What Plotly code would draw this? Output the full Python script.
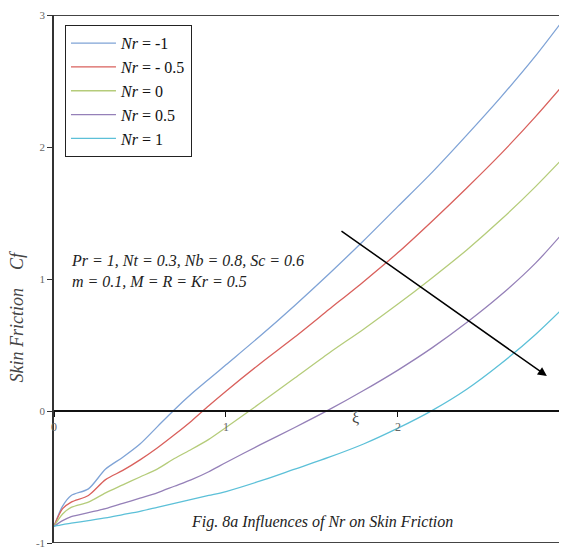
import plotly.graph_objects as go

xi = [0, 0.05, 0.1, 0.2, 0.3, 0.4, 0.5, 0.6, 0.7, 0.8, 0.9, 1.0, 1.2, 1.4, 1.6, 1.8, 2.0, 2.2, 2.4, 2.6, 2.8, 3.0]

cf_nr_m1 = [-0.873, -0.72, -0.64, -0.59, -0.44, -0.35, -0.25, -0.12, 0.01, 0.13, 0.24, 0.35,
            0.57, 0.80, 1.04, 1.29, 1.55, 1.81, 2.09, 2.38, 2.69, 3.03]
cf_nr_m05 = [-0.873, -0.74, -0.69, -0.64, -0.52, -0.45, -0.37, -0.28, -0.18, -0.075, 0.04, 0.15,
             0.36, 0.56, 0.77, 0.98, 1.20, 1.44, 1.69, 1.95, 2.23, 2.53]
cf_nr_0 = [-0.873, -0.78, -0.73, -0.69, -0.62, -0.56, -0.50, -0.44, -0.36, -0.29, -0.215, -0.125,
           0.06, 0.25, 0.44, 0.62, 0.81, 1.01, 1.22, 1.45, 1.70, 1.97]
cf_nr_05 = [-0.873, -0.83, -0.80, -0.77, -0.74, -0.70, -0.66, -0.62, -0.57, -0.52, -0.46, -0.39,
            -0.255, -0.125, 0.01, 0.155, 0.31, 0.48, 0.67, 0.88, 1.12, 1.41]
cf_nr_1 = [-0.873, -0.86, -0.85, -0.83, -0.81, -0.785, -0.76, -0.73, -0.70, -0.67, -0.64, -0.61,
           -0.53, -0.44, -0.35, -0.25, -0.13, 0.005, 0.165, 0.36, 0.58, 0.83]

series_names = ["<i>Nr</i> = -1", "<i>Nr</i> = - 0.5", "<i>Nr</i> = 0", "<i>Nr</i> = 0.5", "<i>Nr</i> = 1"]
series_values = [cf_nr_m1, cf_nr_m05, cf_nr_0, cf_nr_05, cf_nr_1]
colors = ["#7fa3d6", "#d9605c", "#b5cc7a", "#9580b8", "#5cc0d8"]

x_ticks = [0, 1, 2, 3]
y_ticks = [-1, 0, 1, 2, 3]

SERIF = "Liberation Serif, Times New Roman, serif"

fig = go.Figure()
for i, (name, vals, col) in enumerate(zip(series_names, series_values, colors)):
    fig.add_trace(go.Scatter(
        x=xi, y=vals, mode="lines", name=name,
        line=dict(color=col, width=1.3, shape="spline", smoothing=0.8),
    ))

# page body has an 8px default margin: the figure is sized so the plot area lands where the reference has it
fig.update_layout(
    width=559, height=541,
    margin=dict(l=46, r=0, t=7, b=6),
    paper_bgcolor="white", plot_bgcolor="white",
    showlegend=True,
    legend=dict(
        x=0.021, y=0.981, xanchor="left", yanchor="top",
        bordercolor="#222", borderwidth=1.2, bgcolor="white",
        font=dict(family=SERIF, size=16, color="#111"),
        itemwidth=45,
    ),
    xaxis=dict(
        range=[0, 2.983], anchor="free", position=0.25,
        showline=True, linecolor="#111", linewidth=1.5,
        ticks="outside", ticklen=5, tickcolor="#111", tickwidth=1.2,
        tickvals=x_ticks, ticktext=[str(v) for v in x_ticks],
        tickfont=dict(family=SERIF, size=12, color="#666"),
        showgrid=False, zeroline=False,
    ),
    yaxis=dict(
        range=[-1, 3], domain=[0, 1],
        showline=True, linecolor="#333", linewidth=1.5,
        ticks="outside", ticklen=5, tickcolor="#333", tickwidth=1.2,
        tickvals=y_ticks, ticktext=[str(v) for v in y_ticks],
        tickfont=dict(family=SERIF, size=11, color="#666"),
        showgrid=False, zeroline=False,
    ),
    shapes=[
        dict(type="line", xref="paper", yref="y", x0=0, x1=1, y0=3, y1=3,
             line=dict(color="#444", width=2)),
        dict(type="line", xref="paper", yref="y", x0=0, x1=1, y0=-1, y1=-1,
             line=dict(color="#444", width=2)),
    ],
    annotations=[
        dict(x=2.866, y=0.265, ax=1.663, ay=1.371, xref="x", yref="y", axref="x", ayref="y",
             text="", showarrow=True, arrowhead=2, arrowsize=1.2, arrowwidth=1.5, arrowcolor="black"),
        dict(x=0.029, y=0.555, xref="paper", yref="paper", xanchor="left", yanchor="top",
             align="left", showarrow=False,
             text="<i>Pr = 1, Nt = 0.3, Nb = 0.8, Sc = 0.6<br>m = 0.1, M = R = Kr = 0.5</i>",
             font=dict(family=SERIF, size=16, color="#222")),
        dict(x=0.522, y=0.04, xref="paper", yref="paper", xanchor="center", yanchor="middle",
             showarrow=False, text="<i>Fig. 8a Influences of Nr on Skin Friction</i>",
             font=dict(family=SERIF, size=16, color="#222")),
        dict(x=0.587, y=0.237, xref="paper", yref="paper", xanchor="center", yanchor="middle",
             showarrow=False, text="ξ", font=dict(family=SERIF, size=16, color="#444")),
        dict(x=-0.073, y=0.428, xref="paper", yref="paper", xanchor="center", yanchor="middle",
             showarrow=False, textangle=-90, text="<i>Skin Friction    Cf</i>",
             font=dict(family=SERIF, size=18, color="#444")),
    ],
)

fig.write_html("out.html")
